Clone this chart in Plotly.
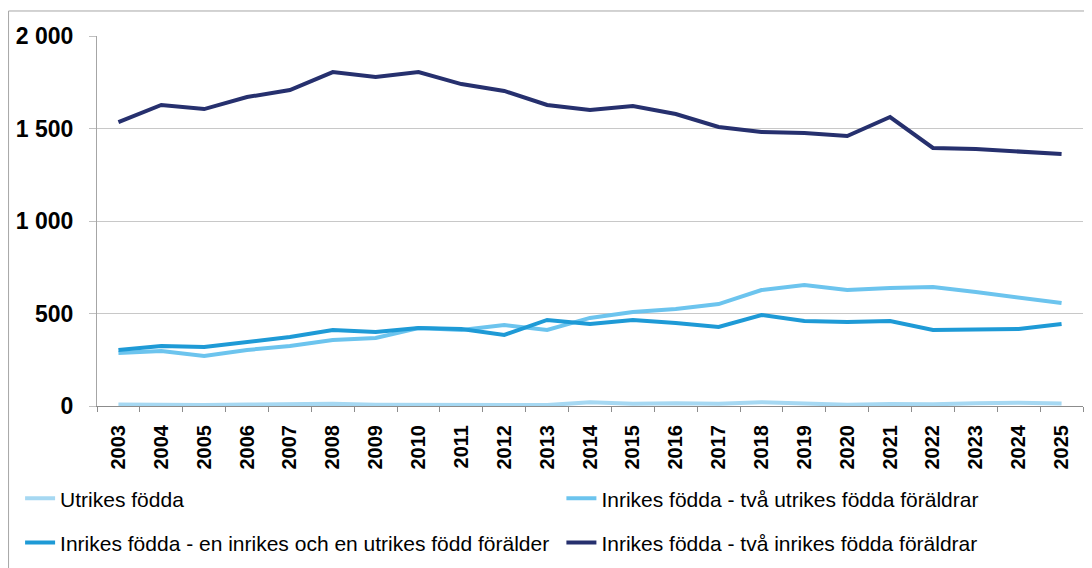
import plotly.graph_objects as go

# Years on the x axis
years = [str(y) for y in range(2003, 2026)]

# Values
utrikes_fodda = [8, 6, 5, 8, 9, 12, 7, 7, 7, 9, 5, 20, 12, 15, 12, 20, 14, 7, 11, 9, 15, 18, 13]
tva_utrikes_foraldrar = [286, 297, 270, 303, 324, 357, 368, 422, 411, 438, 411, 476, 508,
                         524, 551, 627, 654, 627, 638, 643, 616, 584, 557]
en_inrikes_en_utrikes = [303, 324, 319, 346, 373, 411, 400, 422, 416, 384, 465, 443, 465,
                         449, 427, 492, 459, 454, 459, 411, 411, 416, 443]
tva_inrikes_foraldrar = [1535, 1627, 1605, 1670, 1708, 1805, 1778, 1805, 1740, 1703, 1627,
                         1600, 1621, 1578, 1508, 1481, 1476, 1459, 1562, 1395, 1389, 1378, 1362]

# name, values, colour, which legend column it sits in
series = [
    ("Utrikes födda", utrikes_fodda, "#A6D8F2", "legend"),
    ("Inrikes födda - två utrikes födda föräldrar", tva_utrikes_foraldrar, "#6CC4EE", "legend2"),
    ("Inrikes födda - en inrikes och en utrikes född förälder", en_inrikes_en_utrikes, "#1E9AD6", "legend"),
    ("Inrikes födda - två inrikes födda föräldrar", tva_inrikes_foraldrar, "#26306E", "legend2"),
]

fig = go.Figure()

for name, values, color, leg in series:
    fig.add_trace(
        go.Scatter(
            x=years,
            y=values,
            name=name,
            mode="lines",
            line=dict(color=color, width=4),
            legend=leg,
            legendgroup=name,
        )
    )

# Outer chart border (gray frame around the whole chart area)
fig.add_shape(
    type="rect", xref="paper", yref="paper",
    x0=-0.0897, x1=1.03, y0=-0.6, y1=1.0676,
    line=dict(color="#A6A6A6", width=1), fillcolor="rgba(0,0,0,0)", layer="below",
)

legend_font = dict(size=21, family="Liberation Sans, Arial, sans-serif", color="#000000")
legend_common = dict(
    orientation="v",
    xanchor="left",
    yanchor="top",
    y=-0.195,
    itemwidth=30,
    tracegroupgap=14,
    traceorder="grouped",
    font=legend_font,
    bgcolor="rgba(0,0,0,0)",
)

# the page body adds an 8px offset, so the figure is 8px smaller and margins shifted
fig.update_layout(
    width=1084,
    height=560,
    margin=dict(l=89, r=9, t=28, b=162, autoexpand=False),
    plot_bgcolor="#FFFFFF",
    paper_bgcolor="#FFFFFF",
    separators=", ",
    font=dict(family="Liberation Sans, Arial, sans-serif", color="#000000"),
    showlegend=True,
    legend=dict(x=-0.078, **legend_common),
    legend2=dict(x=0.471, **legend_common),
    xaxis=dict(
        type="category",
        range=[-0.5, 22.5],
        tickangle=-90,
        tickfont=dict(size=20, family="Liberation Sans, Arial, sans-serif", color="#000000"),
        tickprefix="<b>",
        ticksuffix="</b>",
        ticks="outside",
        tickson="boundaries",
        ticklen=5,
        tickcolor="#8C8C8C",
        ticklabelstandoff=10,
        showline=True,
        linecolor="#8C8C8C",
        linewidth=1,
        showgrid=False,
        automargin=False,
    ),
    yaxis=dict(
        range=[0, 2000],
        dtick=500,
        tickformat=",d",
        tickfont=dict(size=23, family="Liberation Sans, Arial, sans-serif", color="#000000"),
        tickprefix="<b>",
        ticksuffix="</b>",
        ticks="outside",
        ticklen=7,
        tickcolor="#C0C0C0",
        ticklabelstandoff=11,
        showline=True,
        linecolor="#A6A6A6",
        gridcolor="#C8C8C8",
        zeroline=False,
        automargin=False,
    ),
)

fig.write_html("out.html")
